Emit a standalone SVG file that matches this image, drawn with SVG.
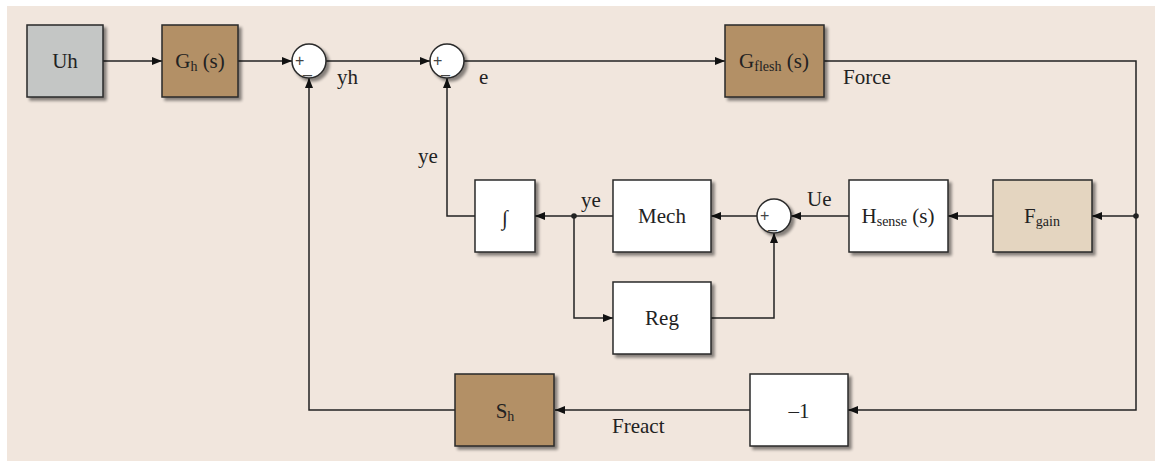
<svg xmlns="http://www.w3.org/2000/svg" width="1155" height="461" viewBox="0 0 1155 461">
<style>
  .bg { fill: #f1e6dd; }
  .box { stroke: #2a2a2a; stroke-width: 1.5; filter: url(#sh); }
  .white { fill: #ffffff; }
  .brown { fill: #b39066; }
  .gray { fill: #c4c6c5; }
  .tan { fill: #e4d5c0; }
  .sum { fill: #ffffff; stroke: #2a2a2a; stroke-width: 1.5; filter: url(#sh); }
  .t { font-family: "Liberation Serif", "Times New Roman", serif; font-size: 21px; fill: #222; }
  .c { text-anchor: middle; }
  .sgn { font-family: "Liberation Sans", Arial, sans-serif; font-size: 16px; fill: #444; }
  .conn { fill: none; stroke: #222; stroke-width: 1.5; }
  .dot { fill: #222; }
</style>
<defs>
  <filter id="sh" x="-20%" y="-20%" width="150%" height="150%">
    <feGaussianBlur in="SourceAlpha" stdDeviation="1.8"/>
    <feOffset dx="3" dy="3" result="b"/>
    <feComponentTransfer><feFuncA type="linear" slope="0.45"/></feComponentTransfer>
    <feMerge><feMergeNode/><feMergeNode in="SourceGraphic"/></feMerge>
  </filter>
  <marker id="arr" viewBox="0 0 10 8" refX="10" refY="4" markerWidth="11" markerHeight="8" markerUnits="userSpaceOnUse" orient="auto">
    <path d="M0,0 L10,4 L0,8 Z" fill="#111"/>
  </marker>
</defs>
<rect class="bg" x="7" y="6" width="1148" height="455"/>

<g id="connectors">
  <path class="conn" d="M103 61 H162" marker-end="url(#arr)"/>
  <path class="conn" d="M238 61 H292" marker-end="url(#arr)"/>
  <path class="conn" d="M326 61 H430" marker-end="url(#arr)"/>
  <path class="conn" d="M464 61 H725" marker-end="url(#arr)"/>
  <path class="conn" d="M824 61 H1136 V410 H848" marker-end="url(#arr)"/>
  <path class="conn" d="M1136 216 H1092" marker-end="url(#arr)"/>
  <path class="conn" d="M993 216 H948" marker-end="url(#arr)"/>
  <path class="conn" d="M849 216 H791" marker-end="url(#arr)"/>
  <path class="conn" d="M757 216 H711" marker-end="url(#arr)"/>
  <path class="conn" d="M613 216 H535" marker-end="url(#arr)"/>
  <path class="conn" d="M574 216 V318 H613" marker-end="url(#arr)"/>
  <path class="conn" d="M711 318 H774 V233" marker-end="url(#arr)"/>
  <path class="conn" d="M475 216 H447 V78" marker-end="url(#arr)"/>
  <path class="conn" d="M750 410 H555" marker-end="url(#arr)"/>
  <path class="conn" d="M455 410 H309 V78" marker-end="url(#arr)"/>
  <circle class="dot" cx="1136" cy="216" r="2.8"/>
  <circle class="dot" cx="574" cy="216" r="2.8"/>
  <text class="t" x="337" y="84">yh</text>
  <text class="t" x="479" y="84">e</text>
  <text class="t" x="843" y="84">Force</text>
  <text class="t" x="418" y="163">ye</text>
  <text class="t" x="581" y="207">ye</text>
  <text class="t" x="807" y="206">Ue</text>
  <text class="t" x="612" y="433">Freact</text>
</g>

<g id="Uh">
  <rect class="box gray" x="27" y="25" width="76" height="72"/>
  <text class="t c" x="65" y="68">Uh</text>
</g>
<g id="Gh">
  <rect class="box brown" x="162" y="25" width="76" height="72"/>
  <text class="t c" x="200" y="68">G<tspan font-size="14" dy="3">h</tspan><tspan dy="-3"> (s)</tspan></text>
</g>
<g id="sum1">
  <circle class="sum" cx="309" cy="61" r="17"/>
  <text class="sgn" x="295" y="66">+</text>
  <text class="sgn" x="303" y="73">_</text>
</g>
<g id="sum2">
  <circle class="sum" cx="447" cy="61" r="17"/>
  <text class="sgn" x="433" y="66">+</text>
  <text class="sgn" x="441" y="73">_</text>
</g>
<g id="Gflesh">
  <rect class="box brown" x="725" y="25" width="99" height="72"/>
  <text class="t c" x="774" y="68">G<tspan font-size="14" dy="3">flesh</tspan><tspan dy="-3"> (s)</tspan></text>
</g>
<g id="Integrator">
  <rect class="box white" x="475" y="180" width="60" height="72"/>
  <text class="t c" x="505" y="225" font-size="26">∫</text>
</g>
<g id="Mech">
  <rect class="box white" x="613" y="180" width="98" height="72"/>
  <text class="t c" x="662" y="223">Mech</text>
</g>
<g id="sum3">
  <circle class="sum" cx="774" cy="216" r="17"/>
  <text class="sgn" x="760" y="221">+</text>
  <text class="sgn" x="768" y="228">_</text>
</g>
<g id="Hsense">
  <rect class="box white" x="849" y="180" width="99" height="72"/>
  <text class="t c" x="898" y="223">H<tspan font-size="14" dy="3">sense</tspan><tspan dy="-3"> (s)</tspan></text>
</g>
<g id="Fgain">
  <rect class="box tan" x="993" y="180" width="99" height="72"/>
  <text class="t c" x="1042" y="223">F<tspan font-size="14" dy="3">gain</tspan></text>
</g>
<g id="Reg">
  <rect class="box white" x="613" y="282" width="98" height="72"/>
  <text class="t c" x="662" y="325">Reg</text>
</g>
<g id="Sh">
  <rect class="box brown" x="455" y="374" width="99" height="72"/>
  <text class="t c" x="505" y="418">S<tspan font-size="14" dy="3">h</tspan></text>
</g>
<g id="neg1">
  <rect class="box white" x="750" y="374" width="98" height="72"/>
  <text class="t c" x="799" y="418">–1</text>
</g>
</svg>
